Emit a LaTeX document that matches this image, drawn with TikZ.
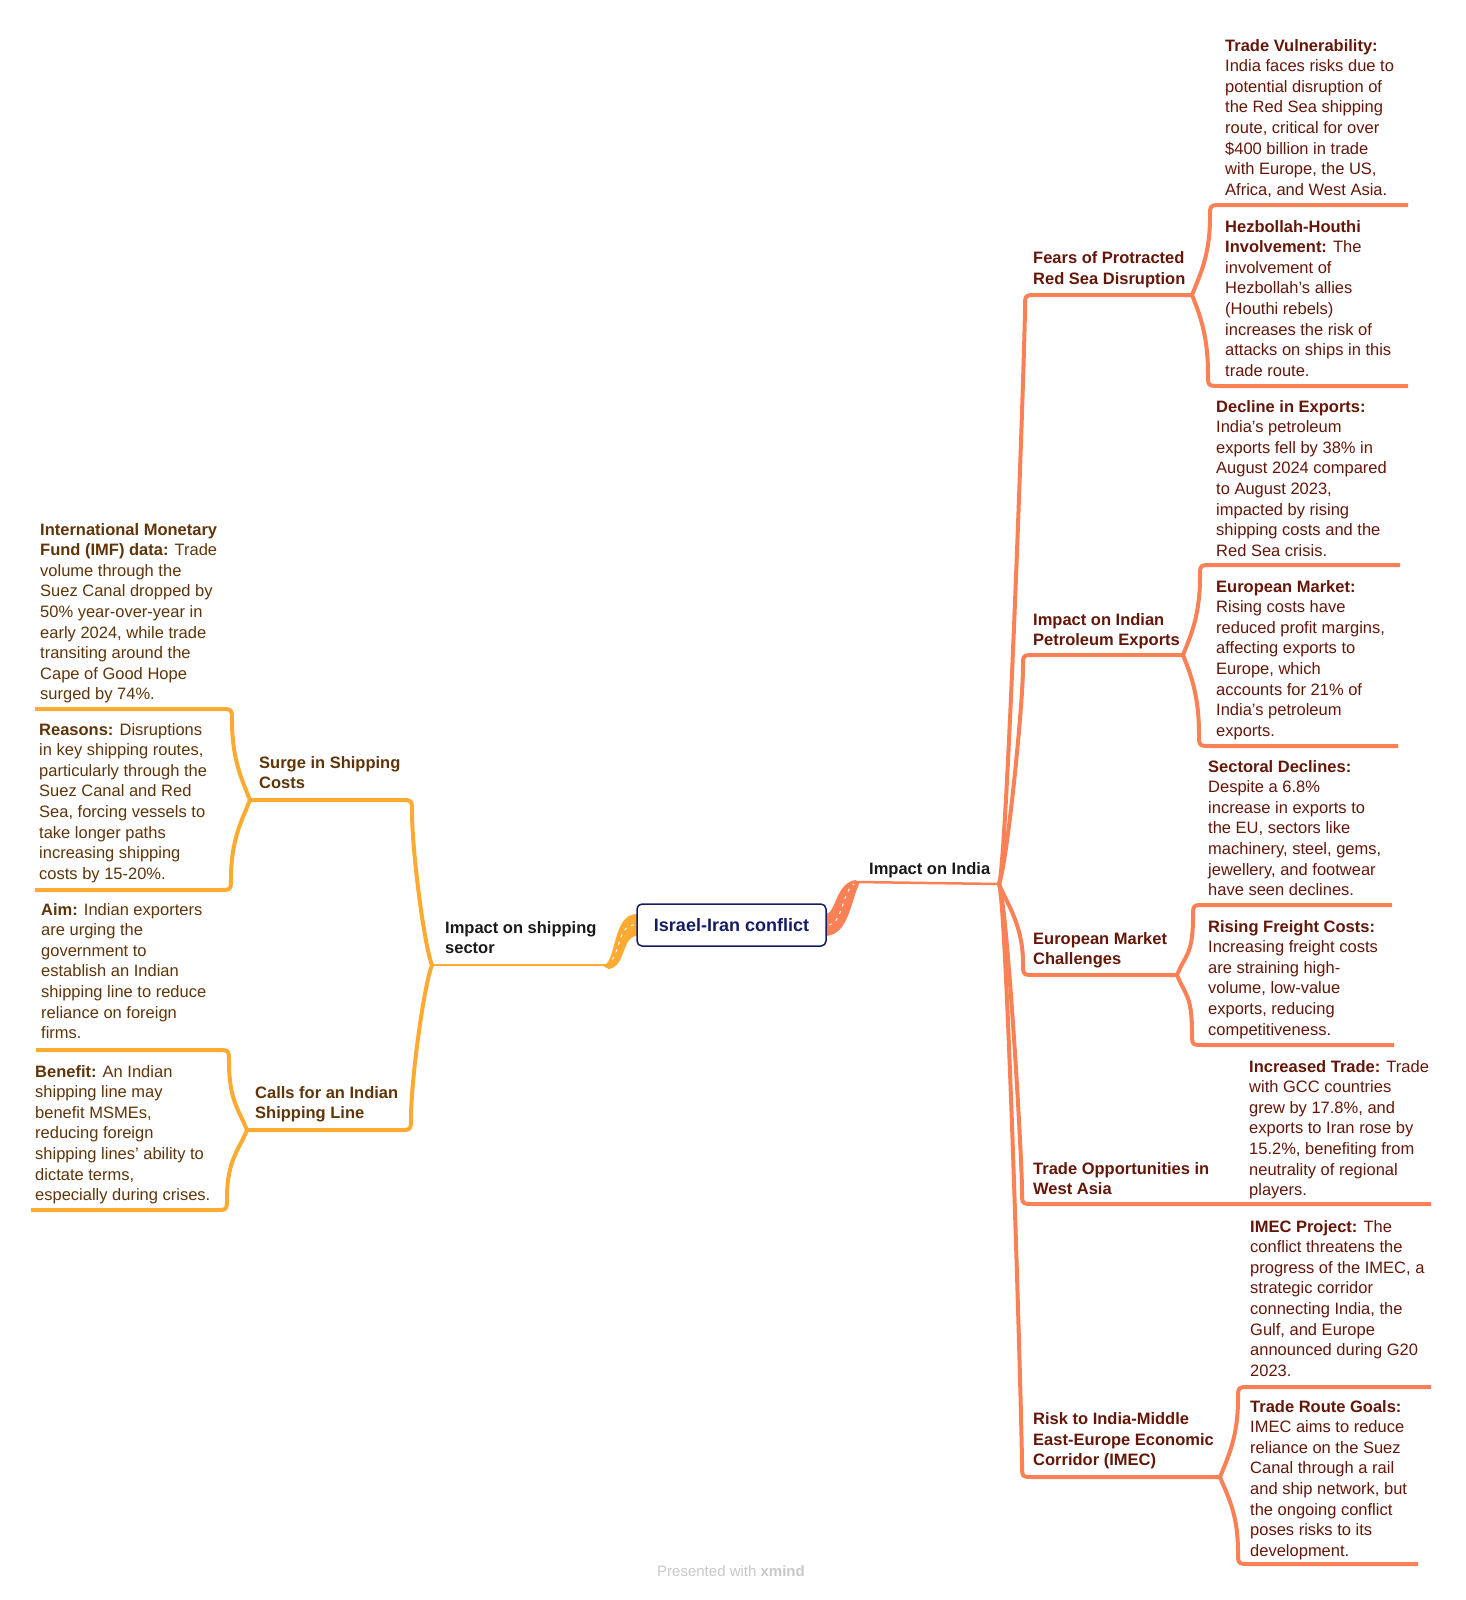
\documentclass[tikz,border=0pt]{standalone}
\usepackage{fontspec}
\setmainfont{Liberation Sans}
\usetikzlibrary{calc}
\definecolor{orgline}{RGB}{250,128,85}
\definecolor{yelline}{RGB}{253,170,50}
\definecolor{orgtext}{RGB}{100,22,8}
\definecolor{yeltext}{RGB}{95,52,8}
\definecolor{navy}{RGB}{22,28,100}
\definecolor{maintext}{RGB}{25,25,25}
\definecolor{wmgray}{RGB}{200,200,200}
\newcommand{\leaffont}{\fontsize{16.5}{20.6}\selectfont}
\newcommand{\mmlink}[6]{\draw[#1] (#2) .. controls ($(#2)+({8*(#5)},{20*(#6)})$) and ($(#3)+(0,{-50*(#6)})$) .. ($(#3)+(0,{-12*(#6)})$) .. controls (#3) .. ($(#3)+({12*(#5)},0)$) -- (#4);}
\begin{document}
\begin{tikzpicture}[x=1pt,y=-1pt,
  oline/.style={draw=orgline,line width=4pt,line join=round},
  yline/.style={draw=yelline,line width=4pt,line join=round},
  leafo/.style={anchor=base west,inner sep=0pt,align=left,text=orgtext,font=\leaffont},
  leafy/.style={leafo,text=yeltext},
  subo/.style={leafo,font=\leaffont\bfseries},
  suby/.style={subo,text=yeltext},
  maint/.style={anchor=base west,inner sep=0pt,align=left,text=maintext,font=\leaffont\bfseries},
  band/.style={draw=white,line width=1pt,dash pattern=on 3pt off 5pt}
]
\useasboundingbox (0,0) rectangle (1465,1600);

% junctions and corners
\coordinate (J1) at (999,884);
\coordinate (ob) at (857,882);
\coordinate (J2) at (432,965);
\coordinate (yb) at (606,965);

\coordinate (c1) at (1025,295);  \coordinate (s1) at (1192,295);
\coordinate (c2) at (1023,655);  \coordinate (s2) at (1183,655);
\coordinate (c3) at (1023,975);  \coordinate (s3) at (1177,975);
\coordinate (c4) at (1022,1204); \coordinate (e4) at (1431,1204);
\coordinate (c5) at (1022,1477); \coordinate (s5) at (1220,1477);

\coordinate (ctv) at (1210,205);  \coordinate (etv) at (1408,205);
\coordinate (chh) at (1208,386);  \coordinate (ehh) at (1408,386);
\coordinate (cde) at (1200,565);  \coordinate (ede) at (1400,565);
\coordinate (cem) at (1199,746);  \coordinate (eem) at (1398,746);
\coordinate (csd) at (1193,905);  \coordinate (esd) at (1392,905);
\coordinate (crf) at (1192,1045); \coordinate (erf) at (1394,1045);
\coordinate (cip) at (1238,1387); \coordinate (eip) at (1431,1387);
\coordinate (ctr) at (1238,1564); \coordinate (etr) at (1418,1564);

\coordinate (cy1) at (412,800);  \coordinate (sy1) at (250,800);
\coordinate (cy2) at (411,1130); \coordinate (sy2) at (247,1130);
\coordinate (cimf) at (232,709); \coordinate (eimf) at (35,709);
\coordinate (crs) at (231,890);  \coordinate (ers) at (35,890);
\coordinate (caim) at (229,1050);\coordinate (eaim) at (36,1050);
\coordinate (cbn) at (227,1210); \coordinate (ebn) at (31,1210);

% thin main lines
\draw[orgline,line width=2.5pt] (ob) -- (J1);
\draw[yelline,line width=2.5pt] (yb) -- (J2);

% orange connectors
\mmlink{oline}{J1}{c1}{s1}{1}{-1}
\mmlink{oline}{J1}{c2}{s2}{1}{-1}
\mmlink{oline}{J1}{c3}{s3}{1}{1}
\mmlink{oline}{J1}{c4}{e4}{1}{1}
\mmlink{oline}{J1}{c5}{s5}{1}{1}
\mmlink{oline}{s1}{ctv}{etv}{1}{-1}
\mmlink{oline}{s1}{chh}{ehh}{1}{1}
\mmlink{oline}{s2}{cde}{ede}{1}{-1}
\mmlink{oline}{s2}{cem}{eem}{1}{1}
\mmlink{oline}{s3}{csd}{esd}{1}{-1}
\mmlink{oline}{s3}{crf}{erf}{1}{1}
\mmlink{oline}{s5}{cip}{eip}{1}{-1}
\mmlink{oline}{s5}{ctr}{etr}{1}{1}

% yellow connectors
\mmlink{yline}{J2}{cy1}{sy1}{-1}{-1}
\mmlink{yline}{J2}{cy2}{sy2}{-1}{1}
\mmlink{yline}{sy1}{cimf}{eimf}{-1}{-1}
\mmlink{yline}{sy1}{crs}{ers}{-1}{1}
\mmlink{yline}{sy2}{caim}{eaim}{-1}{-1}
\mmlink{yline}{sy2}{cbn}{ebn}{-1}{1}

% tapered bands from the central topic
\fill[orgline] (826,914) .. controls (836,913) and (836,882) .. (856,880) -- (859,884) .. controls (850,905) and (848,934) .. (826,936) -- cycle;
\draw[band] (829,925) .. controls (842,924) and (843,890) .. (854,884);
\fill[yelline] (637,914) .. controls (612,914) and (617,962) .. (603,966) -- (609,969) .. controls (626,966) and (622,936) .. (637,936) -- cycle;
\draw[band] (634,925) .. controls (618,925) and (620,955) .. (609,963);

% central topic
\node[draw=navy,line width=1.5pt,rounded corners=5pt,minimum width=189pt,minimum height=42pt,fill=white,text=navy,inner sep=0pt,font=\fontsize{18}{22}\selectfont\bfseries] (root) at (731.5,925) {Israel-Iran conflict};

% main topics (anchor = baseline of last line)
\node[maint] (india) at (869,874) {Impact on India};
\node[maint,font=\fontsize{16.5}{20}\selectfont\bfseries] (ship) at (445,953) {Impact on shipping\\sector};

% orange subtopics
\node[subo] (fears) at (1033,284.1) {Fears of Protracted\\Red Sea Disruption};
\node[subo] (petro) at (1033,645.6) {Impact on Indian\\Petroleum Exports};
\node[subo] (euro) at (1033,964.6) {European Market\\Challenges};
\node[subo] (westasia) at (1033,1194.6) {Trade Opportunities in\\West Asia};
\node[subo] (imec) at (1033,1465.7) {Risk to India-Middle\\East-Europe Economic\\Corridor (IMEC)};

% orange leaves
\node[leafo] (tv) at (1225,195.2) {\textbf{Trade Vulnerability:}\\India faces risks due to\\potential disruption of\\the Red Sea shipping\\route, critical for over\\\$400 billion in trade\\with Europe, the US,\\Africa, and West Asia.};
\node[leafo] (hh) at (1225,376.2) {\textbf{Hezbollah-Houthi}\\\textbf{Involvement:} The\\involvement of\\Hezbollah's allies\\(Houthi rebels)\\increases the risk of\\attacks on ships in this\\trade route.};
\node[leafo] (de) at (1216,556.2) {\textbf{Decline in Exports:}\\India's petroleum\\exports fell by 38\% in\\August 2024 compared\\to August 2023,\\impacted by rising\\shipping costs and the\\Red Sea crisis.};
\node[leafo] (em) at (1216,736.2) {\textbf{European Market:}\\Rising costs have\\reduced profit margins,\\affecting exports to\\Europe, which\\accounts for 21\% of\\India's petroleum\\exports.};
\node[leafo] (sd) at (1208,895.6) {\textbf{Sectoral Declines:}\\Despite a 6.8\%\\increase in exports to\\the EU, sectors like\\machinery, steel, gems,\\jewellery, and footwear\\have seen declines.};
\node[leafo] (rf) at (1208,1035) {\textbf{Rising Freight Costs:}\\Increasing freight costs\\are straining high-\\volume, low-value\\exports, reducing\\competitiveness.};
\node[leafo] (it) at (1249,1195.6) {\textbf{Increased Trade:} Trade\\with GCC countries\\grew by 17.8\%, and\\exports to Iran rose by\\15.2\%, benefiting from\\neutrality of regional\\players.};
\node[leafo] (ip) at (1250,1376.2) {\textbf{IMEC Project:} The\\conflict threatens the\\progress of the IMEC, a\\strategic corridor\\connecting India, the\\Gulf, and Europe\\announced during G20\\2023.};
\node[leafo] (tr) at (1250,1556.2) {\textbf{Trade Route Goals:}\\IMEC aims to reduce\\reliance on the Suez\\Canal through a rail\\and ship network, but\\the ongoing conflict\\poses risks to its\\development.};

% yellow subtopics
\node[suby] (surge) at (259,788.6) {Surge in Shipping\\Costs};
\node[suby] (calls) at (255,1118.6) {Calls for an Indian\\Shipping Line};

% yellow leaves
\node[leafy] (imf) at (40,699.8) {\textbf{International Monetary}\\\textbf{Fund (IMF) data:} Trade\\volume through the\\Suez Canal dropped by\\50\% year-over-year in\\early 2024, while trade\\transiting around the\\Cape of Good Hope\\surged by 74\%.};
\node[leafy] (reasons) at (39,879.2) {\textbf{Reasons:} Disruptions\\in key shipping routes,\\particularly through the\\Suez Canal and Red\\Sea, forcing vessels to\\take longer paths\\increasing shipping\\costs by 15-20\%.};
\node[leafy] (aim) at (41,1038.6) {\textbf{Aim:} Indian exporters\\are urging the\\government to\\establish an Indian\\shipping line to reduce\\reliance on foreign\\firms.};
\node[leafy] (benefit) at (35,1200.6) {\textbf{Benefit:} An Indian\\shipping line may\\benefit MSMEs,\\reducing foreign\\shipping lines' ability to\\dictate terms,\\especially during crises.};

% watermark
\node[text=wmgray,font=\fontsize{15}{18}\selectfont,inner sep=0pt] (wm) at (731,1571) {Presented with \textbf{xmind}};
\end{tikzpicture}
\end{document}
